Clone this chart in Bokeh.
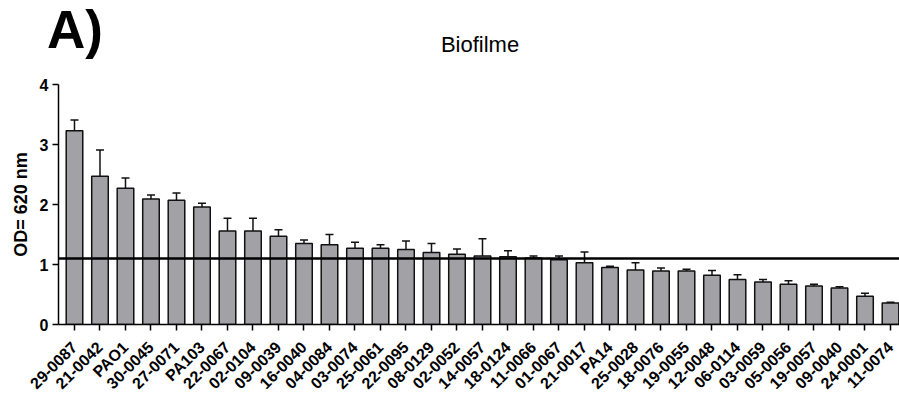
import math
from bokeh.plotting import figure
from bokeh.layouts import column
from bokeh.models import ColumnDataSource, Whisker, Span, FixedTicker, TeeHead, Div
from bokeh.embed import file_html
from bokeh.resources import INLINE

strains = ["29-0087", "21-0042", "PAO1", "30-0045", "27-0071", "PA103", "22-0067", "02-0104",
           "09-0039", "16-0040", "04-0084", "03-0074", "25-0061", "22-0095", "08-0129", "02-0052",
           "14-0057", "18-0124", "11-0066", "01-0067", "21-0017", "PA14", "25-0028", "18-0076",
           "19-0055", "12-0048", "06-0114", "03-0059", "05-0056", "19-0057", "09-0040", "24-0001",
           "11-0074"]
od_mean = [3.23, 2.47, 2.27, 2.09, 2.07, 1.96, 1.56, 1.56, 1.47, 1.35, 1.33, 1.27, 1.27, 1.25,
           1.20, 1.17, 1.14, 1.13, 1.11, 1.08, 1.03, 0.95, 0.91, 0.89, 0.89, 0.82, 0.75, 0.71,
           0.67, 0.64, 0.61, 0.47, 0.36]
od_err = [0.18, 0.44, 0.17, 0.07, 0.12, 0.06, 0.21, 0.21, 0.11, 0.06, 0.17, 0.10, 0.06, 0.14,
          0.15, 0.09, 0.29, 0.10, 0.03, 0.06, 0.18, 0.02, 0.12, 0.05, 0.03, 0.08, 0.08, 0.04,
          0.06, 0.03, 0.02, 0.05, 0.01]
cutoff = 1.1
y_ticks = [0, 1, 2, 3, 4]
panel_tag = "A)"
title_text = "Biofilme"

FONT = "Liberation Sans"
W = 899
HEAD_H = 74
MAIN_H = 327

# ---- header: panel tag and title as real HTML text ----
head_html = (
    f'<div style="position:relative;width:{W}px;height:{HEAD_H}px;margin:0;padding:0;'
    f'font-family:\'{FONT}\';color:black;">'
    f'<span style="position:absolute;left:47px;top:3px;font-size:53px;line-height:1;'
    f'font-weight:bold;white-space:nowrap;">{panel_tag}</span>'
    f'<span style="position:absolute;left:480px;top:34px;font-size:22px;line-height:1;'
    f'transform:translateX(-50%);white-space:nowrap;">{title_text}</span>'
    f'</div>'
)
head = Div(text=head_html, width=W, height=HEAD_H, margin=0,
           styles={"margin": "0", "padding": "0"})

# ---- main bar chart ----
xs = list(range(len(strains)))
upper = [m + e for m, e in zip(od_mean, od_err)]
src = ColumnDataSource(dict(x=xs, top=od_mean, upper=upper))

p = figure(width=W, height=MAIN_H, output_backend="svg", toolbar_location=None,
           x_range=(-0.627, len(strains) - 1 + 0.353), y_range=(0, 4),
           min_border_left=58, min_border_right=0, min_border_top=10, min_border_bottom=77)
p.outline_line_color = None
p.grid.visible = False

p.vbar(x="x", top="top", bottom=0, width=0.65, source=src,
       fill_color="#A2A2A6", line_color="#111111", line_width=1.5)

wh = Whisker(base="x", upper="upper", lower="top", source=src,
             line_color="#111111", line_width=1.5,
             upper_head=TeeHead(size=8, line_color="#111111", line_width=1.5),
             lower_head=None)
p.add_layout(wh)

p.add_layout(Span(location=cutoff, dimension="width", line_color="black", line_width=2.5))

# x axis
p.xaxis.ticker = FixedTicker(ticks=xs)
p.xaxis.major_label_overrides = {i: s for i, s in enumerate(strains)}
p.xaxis.major_label_orientation = math.pi / 4
p.xaxis.major_label_text_font = FONT
p.xaxis.major_label_text_font_style = "bold"
p.xaxis.major_label_text_font_size = "16px"
p.xaxis.major_label_text_color = "black"
p.xaxis.major_tick_out = 6
p.xaxis.major_tick_in = 0
p.xaxis.minor_tick_line_color = None
p.xaxis.axis_line_width = 1.5
p.xaxis.major_tick_line_width = 1.5
p.xaxis.major_label_standoff = 14

# y axis
p.yaxis.ticker = FixedTicker(ticks=y_ticks)
p.yaxis.major_label_text_font = FONT
p.yaxis.major_label_text_font_style = "bold"
p.yaxis.major_label_text_font_size = "16px"
p.yaxis.major_label_text_color = "black"
p.yaxis.major_tick_out = 6
p.yaxis.major_tick_in = 0
p.yaxis.minor_tick_line_color = None
p.yaxis.axis_line_width = 1.5
p.yaxis.major_tick_line_width = 1.5
p.yaxis.major_label_standoff = 4
p.yaxis.axis_label = "OD= 620 nm"
p.yaxis.axis_label_text_font = FONT
p.yaxis.axis_label_text_font_style = "bold"
p.yaxis.axis_label_text_font_size = "18px"
p.yaxis.axis_label_text_color = "black"
p.yaxis.axis_label_standoff = 6

layout = column(head, p, spacing=0)
open("out.html", "w").write(file_html(layout, INLINE))
